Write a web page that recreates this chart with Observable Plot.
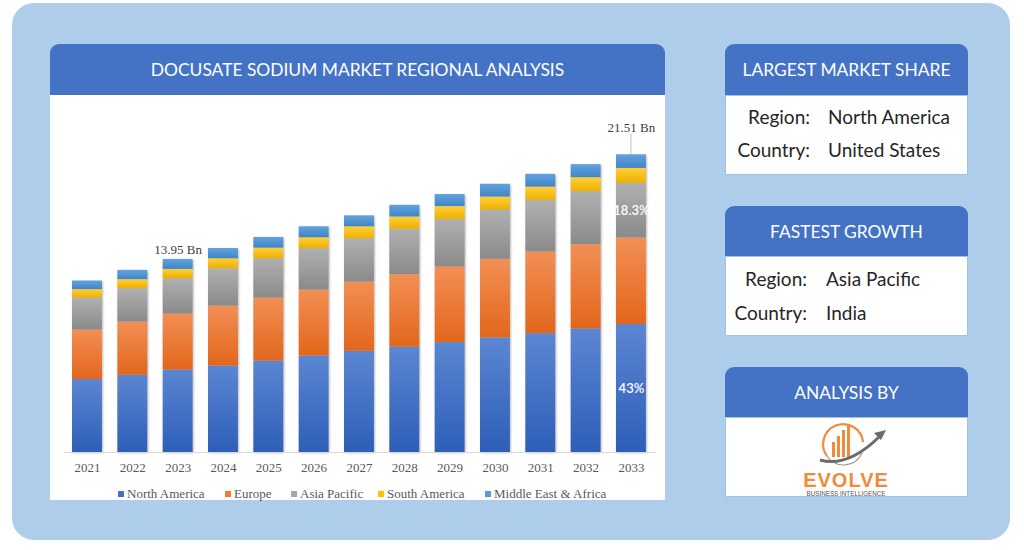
<!DOCTYPE html>
<html><head><meta charset="utf-8">
<script src="https://cdn.jsdelivr.net/npm/d3@7"></script>
<script src="https://cdn.jsdelivr.net/npm/@observablehq/plot@0.6"></script>
<style>
body{margin:0;background:#fff;width:1024px;height:550px;position:relative;overflow:hidden;font-family:Lato,"Open Sans",sans-serif;}
.outer{position:absolute;left:12px;top:3px;width:998px;height:537px;background:#AECDEA;border-radius:22px;}
.hdr{position:absolute;background:#4472C4;color:#fff;border-radius:9px 9px 0 0;display:flex;align-items:center;justify-content:center;font-size:17.4px;}
.box{position:absolute;background:#fff;box-sizing:border-box;border:1px solid #9DC3E6;}
.row{position:absolute;font-size:19px;color:#262626;white-space:nowrap;line-height:20px;}
.lab{text-align:right;}
#chart{position:absolute;left:50px;top:100px;}
#chart svg g[aria-label="bar"]{filter:drop-shadow(1px 1px 1.2px rgba(0,0,0,0.28));}
.legend{position:absolute;top:486px;left:50px;width:615px;font-family:"Liberation Serif",serif;font-size:13px;color:#595959;}
.legend span.it{position:absolute;white-space:nowrap;}
.legend i{display:inline-block;width:6px;height:6px;margin-right:3px;vertical-align:1px;}
</style></head>
<body>
<div class="outer"></div>

<div class="hdr" style="left:50px;top:44px;width:615px;height:51px;">DOCUSATE SODIUM MARKET REGIONAL ANALYSIS</div>
<div class="box" style="left:50px;top:95px;width:615px;height:405px;border:none;"></div>
<div id="chart"></div>
<div class="legend" id="legend"></div>

<div class="hdr" style="left:725px;top:44px;width:243px;height:51px;">LARGEST MARKET SHARE</div>
<div class="box" style="left:725px;top:95px;width:243px;height:80px;"></div>
<div class="row lab" style="left:725px;width:85px;top:107px;">Region:</div>
<div class="row" style="left:828px;top:107px;">North America</div>
<div class="row lab" style="left:725px;width:85px;top:140px;">Country:</div>
<div class="row" style="left:828px;top:140px;">United States</div>

<div class="hdr" style="left:725px;top:206px;width:243px;height:50px;">FASTEST GROWTH</div>
<div class="box" style="left:725px;top:256px;width:243px;height:80px;"></div>
<div class="row lab" style="left:725px;width:82px;top:269px;">Region:</div>
<div class="row" style="left:826px;top:269px;">Asia Pacific</div>
<div class="row lab" style="left:725px;width:82px;top:303px;">Country:</div>
<div class="row" style="left:826px;top:303px;">India</div>

<div class="hdr" style="left:725px;top:367px;width:243px;height:50px;">ANALYSIS BY</div>
<div class="box" style="left:725px;top:417px;width:243px;height:80px;"></div>
<svg style="position:absolute;left:800px;top:418px;" width="95" height="80" viewBox="0 0 95 80">
  <path d="M27 38 A20 20 0 1 1 63 24" fill="none" stroke="#F08A3C" stroke-width="2.2"/>
  <path d="M27 38 A20 20 0 0 0 62 35" fill="none" stroke="#9a9a9a" stroke-width="1.2"/>
  <rect x="32" y="24" width="3" height="15" fill="#F08A3C"/>
  <rect x="37" y="18" width="3" height="21" fill="#F08A3C"/>
  <rect x="42" y="12" width="3" height="27" fill="#F08A3C"/>
  <rect x="47" y="6" width="3" height="33" fill="#F08A3C"/>
  <path d="M20 42 Q48 50 80 18" fill="none" stroke="#6b6b6b" stroke-width="3"/>
  <path d="M86 12 L74 15 L81 22 Z" fill="#6b6b6b"/>
  <text x="46" y="69" text-anchor="middle" font-family="Liberation Sans,Arial" font-weight="bold" font-size="20" fill="#F08A3C" letter-spacing="1">EVOLVE</text>
  <text x="46" y="78" text-anchor="middle" font-family="Liberation Sans,Arial" font-size="6.3" fill="#555">BUSINESS INTELLIGENCE</text>
</svg>

<script>
const years = ["2021","2022","2023","2024","2025","2026","2027","2028","2029","2030","2031","2032","2033"];
const regions = ["North America","Europe","Asia Pacific","South America","Middle East & Africa"];
const northAmerica = [5.27,5.58,5.96,6.25,6.61,6.97,7.31,7.61,7.94,8.28,8.59,8.93,9.25];
const europe       = [3.58,3.85,4.04,4.33,4.55,4.77,5.00,5.24,5.47,5.68,5.90,6.09,6.26];
const asiaPacific  = [2.31,2.41,2.56,2.70,2.84,2.99,3.13,3.28,3.42,3.56,3.73,3.83,3.94];
const southAmerica = [0.61,0.65,0.67,0.72,0.77,0.79,0.87,0.89,0.94,0.94,0.96,1.01,1.08];
const middleEastAfrica = [0.62,0.67,0.72,0.74,0.77,0.79,0.79,0.84,0.87,0.92,0.92,0.94,0.98];
const totalLabels = [{year:"2023", value:13.95, text:"13.95 Bn", lead:false},{year:"2033", value:21.51, text:"21.51 Bn", lead:true}];
const segmentLabels = [{year:"2033", region:"North America", text:"43%"},{year:"2033", region:"Asia Pacific", text:"18.3%"}];

const series = [northAmerica, europe, asiaPacific, southAmerica, middleEastAfrica];
const legendColors = ["#4472C4","#ED7D31","#A5A5A5","#FFC000","#5B9BD5"];
const grads = [
  ["gNA","#5B86D2","#2E5EB8"],
  ["gEU","#F28F55","#E2661B"],
  ["gAP","#B0B0B0","#8A8A8A"],
  ["gSA","#FFCF3A","#EDB000"],
  ["gME","#62A3DE","#3F85C7"]
];
const data = [];
years.forEach((y,i)=>regions.forEach((r,j)=>{
  const lab = segmentLabels.find(s=>s.year===y && s.region===r);
  data.push({year:y, region:r, value:series[j][i], label: lab ? lab.text : ""});
}));

const chart = Plot.plot({
  width:615, height:380,
  marginLeft:6.6, marginRight:3.7, marginTop:6, marginBottom:28,
  style:{fontFamily:"'Liberation Serif', serif", fontSize:"13px", color:"#595959", background:"transparent"},
  x:{domain:years, padding:0.34, round:false, label:null, tickSize:0, tickPadding:10},
  y:{domain:[0,25], axis:null},
  color:{domain:regions, range:grads.map(g=>`url(#${g[0]})`)},
  marks:[
    Plot.barY(data, Plot.stackY({x:"year", y:"value", fill:"region", order:null})),
    Plot.ruleY([0], {stroke:"#d9d9d9", insetLeft:7, insetRight:6}),
    Plot.text(data, Plot.stackY({x:"year", y:"value", text:"label", fill:"#fff", fontFamily:"Lato, sans-serif", fontSize:13, fontWeight:600, order:null})),
    Plot.text(totalLabels.filter(d=>!d.lead), {x:"year", y:"value", text:"text", dy:-10, fill:"#404040", fontSize:13}),
    Plot.text(totalLabels.filter(d=>d.lead), {x:"year", y:"value", text:"text", dy:-27, fill:"#404040", fontSize:13})
  ]
});
const defs = d3.select(chart).insert("defs",":first-child");
grads.forEach(([id,c1,c2])=>{
  const g = defs.append("linearGradient").attr("id",id).attr("x1",0).attr("y1",0).attr("x2",0).attr("y2",1);
  g.append("stop").attr("offset","0%").attr("stop-color",c1);
  g.append("stop").attr("offset","100%").attr("stop-color",c2);
});
// leader line for lead labels, using the plot's own scales
const xs = chart.scale("x"), ys = chart.scale("y");
totalLabels.filter(d=>d.lead).forEach(d=>{
  const cx = xs.apply(d.year) + xs.bandwidth/2, cy = ys.apply(d.value);
  d3.select(chart).append("line").attr("x1",cx).attr("x2",cx).attr("y1",cy-21).attr("y2",cy)
    .attr("stroke","#bfbfbf").attr("stroke-width",1);
});
document.getElementById("chart").appendChild(chart);

const legendX = [68, 175, 241, 328, 435];
const lg = document.getElementById("legend");
regions.forEach((r,i)=>{
  const s = document.createElement("span");
  s.className="it"; s.style.left = legendX[i]+"px";
  s.innerHTML = `<i style="background:${legendColors[i]}"></i>${r}`;
  lg.appendChild(s);
});
</script>
</body></html>
